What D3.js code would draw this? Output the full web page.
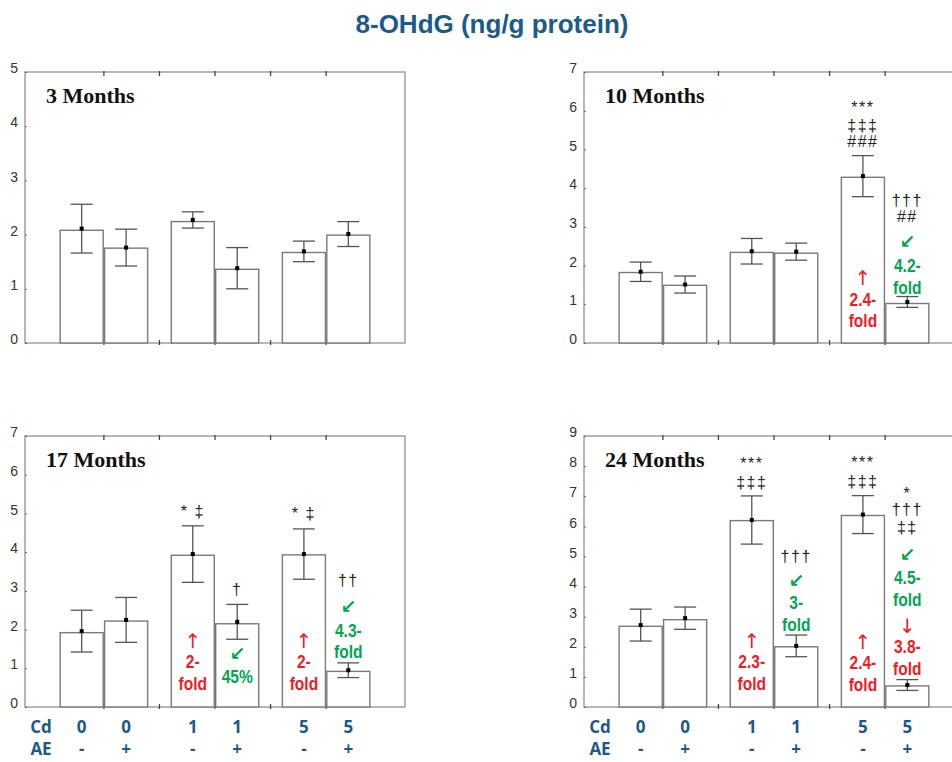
<!DOCTYPE html>
<html>
<head>
<meta charset="utf-8">
<script src="https://cdn.jsdelivr.net/npm/d3@7"></script>
<style>
  body { margin: 0; background: #fff; }
  svg { display: block; }
</style>
</head>
<body>
<div id="chart"></div>
<script>
// 8-OHdG values
var months = ["3 Months", "10 Months", "17 Months", "24 Months"];
var yMax = [5, 7, 7, 9];
var cdLevels = ["0", "0", "1", "1", "5", "5"];
var aeLevels = ["-", "+", "-", "+", "-", "+"];

var barValues = [
  [2.08, 1.75, 2.24, 1.36, 1.67, 1.99],
  [1.82, 1.49, 2.34, 2.32, 4.28, 1.02],
  [1.92, 2.22, 3.92, 2.15, 3.93, 0.92],
  [2.68, 2.90, 6.19, 2.00, 6.36, 0.70]
];
var meanValues = [
  [2.11, 1.76, 2.27, 1.38, 1.69, 2.01],
  [1.84, 1.51, 2.37, 2.36, 4.31, 1.06],
  [1.96, 2.25, 3.95, 2.20, 3.95, 0.95],
  [2.72, 2.95, 6.21, 2.03, 6.39, 0.73]
];
var semValues = [
  [0.45, 0.34, 0.15, 0.38, 0.19, 0.23],
  [0.25, 0.22, 0.33, 0.22, 0.53, 0.14],
  [0.54, 0.58, 0.73, 0.45, 0.65, 0.19],
  [0.53, 0.37, 0.80, 0.36, 0.63, 0.18]
];

// [panel, bar, value level, text, kind]
var marks = [
  [1, 4, 6.09, "***", "sig"], [1, 4, 5.61, "‡‡‡", "sig"], [1, 4, 5.20, "###", "sig"],
  [1, 4, 1.68, "↑", "upArrow"], [1, 4, 1.14, "2.4-", "up"], [1, 4, 0.58, "fold", "up"],
  [1, 5, 3.69, "†††", "sig"], [1, 5, 3.26, "##", "sig"],
  [1, 5, 2.62, "↙", "downArrow"], [1, 5, 2.01, "4.2-", "down"], [1, 5, 1.45, "fold", "down"],

  [2, 2, 5.06, "* ‡", "sig"],
  [2, 2, 1.71, "↑", "upArrow"], [2, 2, 1.17, "2-", "up"], [2, 2, 0.60, "fold", "up"],
  [2, 3, 3.05, "†", "sig"],
  [2, 3, 1.39, "↙", "downArrow"], [2, 3, 0.80, "45%", "down"],
  [2, 4, 5.00, "* ‡", "sig"],
  [2, 4, 1.71, "↑", "upArrow"], [2, 4, 1.17, "2-", "up"], [2, 4, 0.60, "fold", "up"],
  [2, 5, 3.28, "††", "sig"],
  [2, 5, 2.59, "↙", "downArrow"], [2, 5, 1.99, "4.3-", "down"], [2, 5, 1.43, "fold", "down"],

  [3, 2, 8.09, "***", "sig"], [3, 2, 7.46, "‡‡‡", "sig"],
  [3, 2, 2.20, "↑", "upArrow"], [3, 2, 1.51, "2.3-", "up"], [3, 2, 0.78, "fold", "up"],
  [3, 3, 5.01, "†††", "sig"],
  [3, 3, 4.22, "↙", "downArrow"], [3, 3, 3.48, "3-", "down"], [3, 3, 2.76, "fold", "down"],
  [3, 4, 8.12, "***", "sig"], [3, 4, 7.50, "‡‡‡", "sig"],
  [3, 4, 2.17, "↑", "upArrow"], [3, 4, 1.48, "2.4-", "up"], [3, 4, 0.76, "fold", "up"],
  [3, 5, 7.09, "*", "sig"], [3, 5, 6.56, "†††", "sig"], [3, 5, 5.98, "‡‡", "sig"],
  [3, 5, 5.07, "↙", "downArrow"], [3, 5, 4.31, "4.5-", "down"], [3, 5, 3.59, "fold", "down"],
  [3, 5, 2.70, "↓", "upArrow"], [3, 5, 2.00, "3.8-", "up"], [3, 5, 1.29, "fold", "up"]
];

var WIDTH = 952;
var HEIGHT = 762;
var PLOT_W = 380;
var PLOT_H = 271;
var LEFTS = [25, 584, 25, 584];
var TOPS = [72, 72, 436, 436];
var RED = "#ee1c25";
var GREEN = "#00a651";
var BLUE = "#1b5a8a";

var translate = function(x, y){
  return "translate(" + x + "," + y + ")";
};

var svg = d3.select("#chart").append("svg")
  .attr("width", WIDTH)
  .attr("height", HEIGHT);

svg.append("text")
  .attr("x", 492)
  .attr("y", 33)
  .attr("text-anchor", "middle")
  .style("font-family", "Liberation Sans, Arial, sans-serif")
  .style("font-weight", "bold")
  .style("font-size", "26px")
  .style("fill", BLUE)
  .text("8-OHdG (ng/g protein)");

var xScale = d3.scaleLinear()
  .domain([0.29, 3.71])
  .range([0, PLOT_W]);

var barStart = function(i){
  return Math.floor(i / 2) + 1 - 0.4 + (i % 2) * 0.4;
};
var barCenter = function(i){
  return xScale(barStart(i) + 0.2);
};

months.forEach(function(name, p){
  var yScale = d3.scaleLinear()
    .domain([0, yMax[p]])
    .range([PLOT_H, 0]);

  var g = svg.append("g")
    .attr("transform", translate(LEFTS[p], TOPS[p]));

  // frame
  g.append("rect")
    .attr("width", PLOT_W)
    .attr("height", PLOT_H)
    .attr("fill", "none")
    .attr("stroke", "#999")
    .attr("stroke-width", 1.4);

  // y axis labels + tiny inner ticks
  var yAxis = d3.axisLeft(yScale)
    .ticks(yMax[p])
    .tickSize(-2)
    .tickPadding(7);
  var ya = g.append("g").call(yAxis);
  ya.attr("font-size", null).attr("font-family", null);
  ya.select(".domain").remove();
  ya.selectAll("line").attr("stroke", "#666");
  ya.selectAll("text")
    .attr("dy", "0.05em")
    .style("font-family", "Liberation Sans, Arial, sans-serif")
    .style("font-size", "14px")
    .style("fill", "#333");

  // top / bottom frame ticks
  var tickVals = [1, 1.5, 2, 2.5, 3];
  [[-1, 4], [PLOT_H - 3, PLOT_H + 2]].forEach(function(span){
    g.selectAll(null)
      .data(tickVals)
      .enter().append("line")
      .attr("x1", function(d){ return xScale(d); })
      .attr("x2", function(d){ return xScale(d); })
      .attr("y1", span[0])
      .attr("y2", span[1])
      .attr("stroke", "#444")
      .attr("stroke-width", 1.3);
  });

  // bars
  g.selectAll(".bar")
    .data(barValues[p])
    .enter().append("rect")
    .attr("class", "bar")
    .attr("x", function(d, i){ return xScale(barStart(i)) + 0.7; })
    .attr("width", xScale(0.4) - xScale(0) - 1.4)
    .attr("y", function(d){ return yScale(d); })
    .attr("height", function(d){ return PLOT_H - yScale(d); })
    .attr("fill", "#fff")
    .attr("stroke", "#7a7a7a")
    .attr("stroke-width", 1.4);

  // error bars
  var err = g.selectAll(".err")
    .data(meanValues[p])
    .enter().append("g")
    .attr("class", "err")
    .attr("stroke", "#555")
    .attr("stroke-width", 1.3);
  err.append("line")
    .attr("x1", function(d, i){ return barCenter(i); })
    .attr("x2", function(d, i){ return barCenter(i); })
    .attr("y1", function(d, i){ return yScale(d + semValues[p][i]); })
    .attr("y2", function(d, i){ return yScale(d - semValues[p][i]); });
  [1, -1].forEach(function(sign){
    err.append("line")
      .attr("x1", function(d, i){ return barCenter(i) - 11; })
      .attr("x2", function(d, i){ return barCenter(i) + 11; })
      .attr("y1", function(d, i){ return yScale(d + sign * semValues[p][i]); })
      .attr("y2", function(d, i){ return yScale(d + sign * semValues[p][i]); });
  });
  g.selectAll(".dot")
    .data(meanValues[p])
    .enter().append("rect")
    .attr("class", "dot")
    .attr("x", function(d, i){ return barCenter(i) - 2; })
    .attr("y", function(d){ return yScale(d) - 2; })
    .attr("width", 4)
    .attr("height", 4)
    .attr("fill", "#000");

  // panel title
  g.append("text")
    .attr("x", 21)
    .attr("y", 31)
    .style("font-family", "Liberation Serif, Times New Roman, serif")
    .style("font-weight", "bold")
    .style("font-size", "22px")
    .style("fill", "#111")
    .text(name);

  // annotations
  marks.filter(function(m){ return m[0] === p; }).forEach(function(m){
    var x = barCenter(m[1]);
    var y = yScale(m[2]);
    var kind = m[4];
    if (kind === "sig") {
      g.append("text")
        .attr("x", x)
        .attr("y", y)
        .attr("dy", "0.35em")
        .attr("text-anchor", "middle")
        .style("font-family", "Liberation Sans, Arial, sans-serif")
        .style("font-size", "16px")
        .style("letter-spacing", "1.5px")
        .style("fill", "#222")
        .text(m[3]);
    } else if (kind === "upArrow" || kind === "downArrow") {
      g.append("text")
        .attr("x", x)
        .attr("y", y)
        .attr("dy", "0.35em")
        .attr("text-anchor", "middle")
        .style("font-family", "DejaVu Sans, sans-serif")
        .style("font-weight", kind === "downArrow" ? "bold" : "normal")
        .style("font-size", kind === "downArrow" ? "19px" : "20px")
        .style("fill", kind === "downArrow" ? GREEN : RED)
        .text(m[3]);
    } else {
      g.append("text")
        .attr("transform", translate(x, y) + " scale(0.82,1)")
        .attr("dy", "0.35em")
        .attr("text-anchor", "middle")
        .style("font-family", "Liberation Sans, Arial, sans-serif")
        .style("font-weight", "bold")
        .style("font-size", "19px")
        .style("fill", kind === "down" ? GREEN : RED)
        .text(m[3]);
    }
  });

  // Cd / AE rows under the bottom panels
  if (p >= 2) {
    var rows = [["Cd", cdLevels, 727], ["AE", aeLevels, 749]];
    rows.forEach(function(r){
      var rowY = r[2] - TOPS[p];
      g.append("text")
        .attr("x", 16)
        .attr("y", rowY)
        .attr("dy", "0.35em")
        .attr("text-anchor", "middle")
        .style("font-family", "Open Sans, sans-serif")
        .style("font-weight", "bold")
        .style("font-size", "17px")
        .style("fill", BLUE)
        .text(r[0]);
      g.selectAll(null)
        .data(r[1])
        .enter().append("text")
        .attr("x", function(d, i){ return barCenter(i); })
        .attr("y", rowY)
        .attr("dy", "0.35em")
        .attr("text-anchor", "middle")
        .style("font-family", "Open Sans, sans-serif")
        .style("font-weight", "bold")
        .style("font-size", "17px")
        .style("fill", BLUE)
        .text(function(d){ return d; });
    });
  }
});
</script>
</body>
</html>
